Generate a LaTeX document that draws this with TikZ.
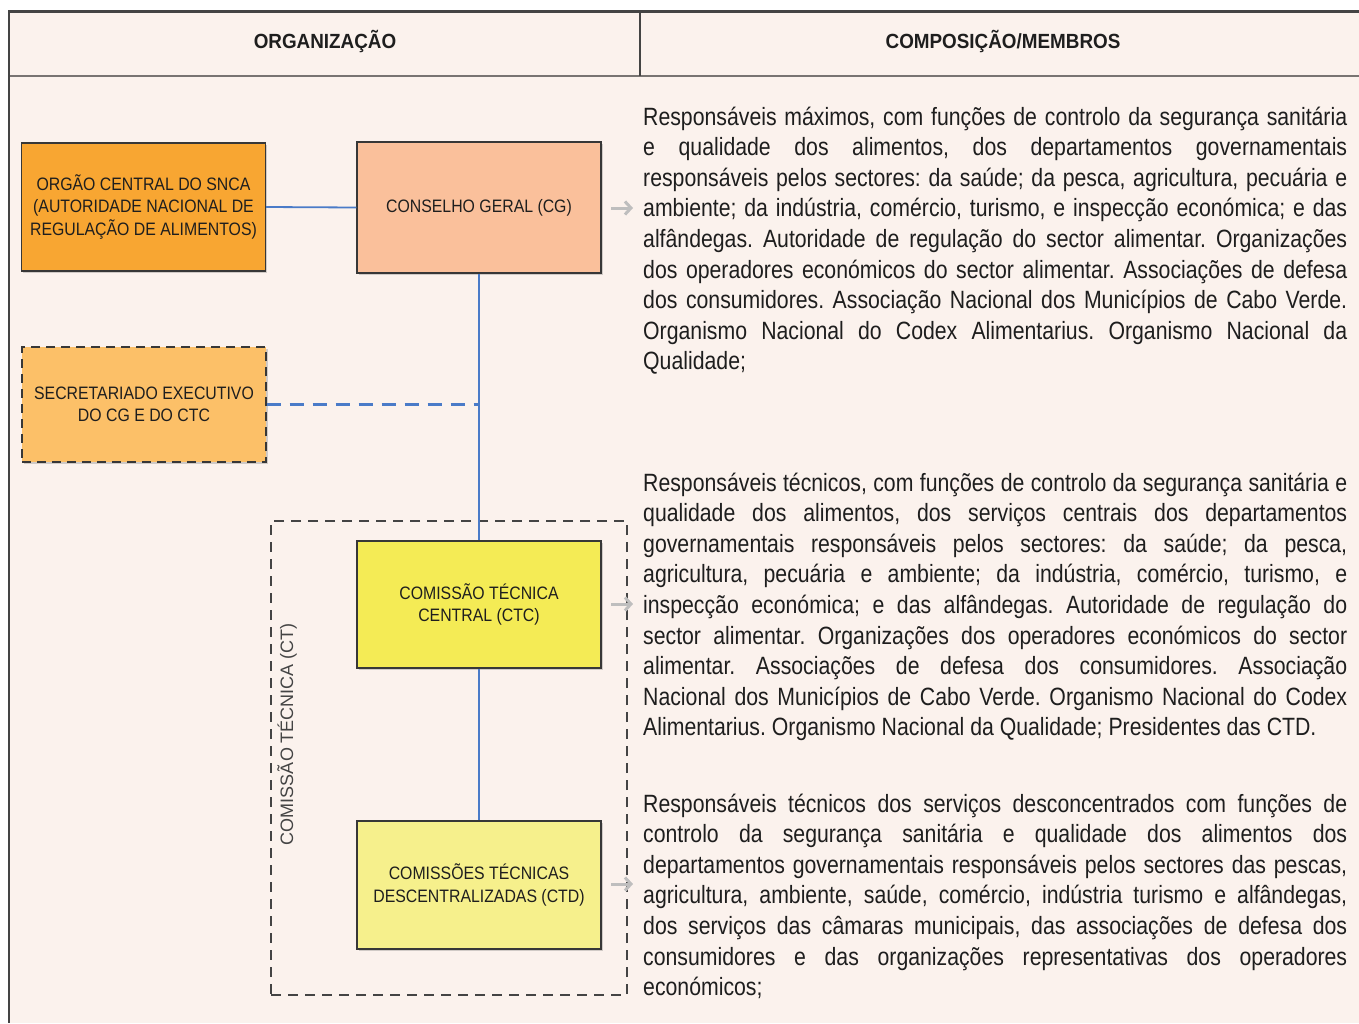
\documentclass[tikz,border=0pt]{standalone}
\usepackage{fontspec}
\setmainfont{Liberation Sans}
\newfontfamily\bodyfont{Liberation Sans}[FakeStretch=0.85]
\newfontfamily\boxfont{Liberation Sans}[FakeStretch=0.88]
\newfontfamily\headfont{Liberation Sans}[FakeStretch=0.92]
\usetikzlibrary{shadows,arrows.meta}
\definecolor{bgpink}{RGB}{251,242,237}
\definecolor{frame}{RGB}{68,68,68}
\definecolor{hline}{RGB}{120,116,114}
\definecolor{boxline}{RGB}{55,55,55}
\definecolor{txt}{RGB}{30,30,30}
\definecolor{orgfill}{RGB}{248,166,50}
\definecolor{cgfill}{RGB}{250,192,155}
\definecolor{secfill}{RGB}{252,192,104}
\definecolor{ctcfill}{RGB}{244,235,85}
\definecolor{ctdfill}{RGB}{246,240,140}
\definecolor{linkblue}{RGB}{74,123,200}
\definecolor{arrowgray}{RGB}{190,190,190}
\frenchspacing
\begin{document}
\begin{tikzpicture}[x=1pt,y=-1pt,
  orgbox/.style={draw=boxline, line width=1.3pt, minimum width=244pt, minimum height=128pt,
    align=center, font=\boxfont\fontsize{18}{22.5}\selectfont, text=txt, inner sep=0pt,
    drop shadow={shadow xshift=1.5pt, shadow yshift=-1.5pt, opacity=0.35}},
  link/.style={draw=linkblue, line width=1.8pt},
  garrow/.style={draw=arrowgray, line width=3pt, -{Straight Barb[length=6pt,width=13pt,line width=3pt]}},
  headtext/.style={font=\headfont\bfseries\fontsize{20.5}{24}\selectfont, text=txt, inner sep=0pt},
  para/.style={anchor=base west, inner sep=0pt, text=txt},
]
\useasboundingbox (0,0) rectangle (1359,1023);
\fill[white] (0,0) rectangle (1359,1023);
\fill[bgpink] (9,11) rectangle (1359,1023);
% table frame
\draw[frame, line width=3pt] (8,11) -- (1359,11);
\draw[hline, line width=2.2pt] (9,76) -- (1359,76);
\draw[frame, line width=1.8pt] (9,10) -- (9,1023);
\draw[frame, line width=1.8pt] (640,11) -- (640,76);
\node[headtext] (h1) at (325,42) {ORGANIZAÇÃO};
\node[headtext] (h2) at (1003,42) {COMPOSIÇÃO/MEMBROS};

% technical commission frame
\node[draw=frame, line width=1.4pt, dash pattern=on 10pt off 7pt, minimum width=356pt, minimum height=474pt, inner sep=0pt] (ct) at (449,758) {};
\node[rotate=90, font=\fontsize{18}{22}\selectfont, text=frame, inner sep=0pt] (ctlabel) at (287,734) {COMISSÃO TÉCNICA (CT)};

% boxes
\node[orgbox, fill=orgfill] (org) at (143.5,207) {ORGÃO CENTRAL DO SNCA\\(AUTORIDADE NACIONAL DE\\REGULAÇÃO DE ALIMENTOS)};
\node[orgbox, fill=cgfill, minimum height=131pt] (cg) at (479,207.5) {CONSELHO GERAL (CG)};
\node[orgbox, fill=secfill, minimum height=115pt, dash pattern=on 9pt off 6pt] (sec) at (144,404.5) {SECRETARIADO EXECUTIVO\\DO CG E DO CTC};
\node[orgbox, fill=ctcfill, minimum height=127pt] (ctc) at (479,604.5) {COMISSÃO TÉCNICA\\CENTRAL (CTC)};
\node[orgbox, fill=ctdfill] (ctd) at (479,885) {COMISSÕES TÉCNICAS\\DESCENTRALIZADAS (CTD)};

% connectors
\coordinate (junction) at (sec.east -| cg.south);
\draw[link] (org.east) -- (cg.west);
\draw[link] (cg.south) -- (ctc.north);
\draw[link, line width=2.4pt, dash pattern=on 14pt off 9pt] (sec.east) -- (junction);
\draw[link] (ctc.south) -- (ctd.north);

% grey arrows
\coordinate (a1s) at (611,208); \coordinate (a1e) at (633,208);
\coordinate (a2s) at (611,604); \coordinate (a2e) at (633,604);
\coordinate (a3s) at (611,884); \coordinate (a3e) at (633,884);
\draw[garrow] (a1s) -- (a1e);
\draw[garrow] (a2s) -- (a2e);
\draw[garrow] (a3s) -- (a3e);

% paragraphs
\node[para] (p1) at (643,125) {\parbox[t]{704pt}{\bodyfont\fontsize{25}{30.6}\selectfont
Responsáveis máximos, com funções de controlo da segurança sanitária\linebreak
e qualidade dos alimentos, dos departamentos governamentais\linebreak
responsáveis pelos sectores: da saúde; da pesca, agricultura, pecuária e\linebreak
ambiente; da indústria, comércio, turismo, e inspecção económica; e das\linebreak
alfândegas. Autoridade de regulação do sector alimentar. Organizações\linebreak
dos operadores económicos do sector alimentar. Associações de defesa\linebreak
dos consumidores. Associação Nacional dos Municípios de Cabo Verde.\linebreak
Organismo Nacional do Codex Alimentarius. Organismo Nacional da\linebreak
Qualidade;}};
\node[para] (p2) at (643,491) {\parbox[t]{704pt}{\bodyfont\fontsize{25}{30.6}\selectfont
Responsáveis técnicos, com funções de controlo da segurança sanitária e\linebreak
qualidade dos alimentos, dos serviços centrais dos departamentos\linebreak
governamentais responsáveis pelos sectores: da saúde; da pesca,\linebreak
agricultura, pecuária e ambiente; da indústria, comércio, turismo, e\linebreak
inspecção económica; e das alfândegas. Autoridade de regulação do\linebreak
sector alimentar. Organizações dos operadores económicos do sector\linebreak
alimentar. Associações de defesa dos consumidores. Associação\linebreak
Nacional dos Municípios de Cabo Verde. Organismo Nacional do Codex\linebreak
Alimentarius. Organismo Nacional da Qualidade; Presidentes das CTD.}};
\node[para] (p3) at (643,812) {\parbox[t]{704pt}{\bodyfont\fontsize{25}{30.6}\selectfont
Responsáveis técnicos dos serviços desconcentrados com funções de\linebreak
controlo da segurança sanitária e qualidade dos alimentos dos\linebreak
departamentos governamentais responsáveis pelos sectores das pescas,\linebreak
agricultura, ambiente, saúde, comércio, indústria turismo e alfândegas,\linebreak
dos serviços das câmaras municipais, das associações de defesa dos\linebreak
consumidores e das organizações representativas dos operadores\linebreak
económicos;}};
\end{tikzpicture}
\end{document}
